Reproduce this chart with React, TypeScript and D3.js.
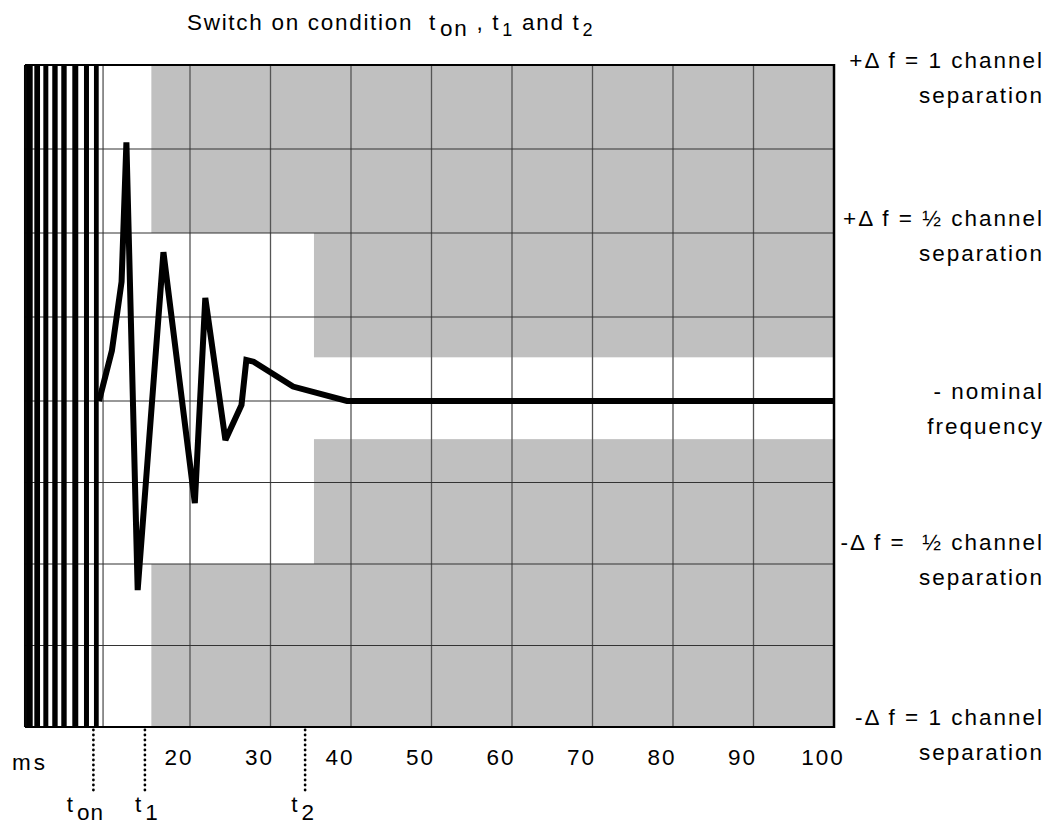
import React from "react";
import * as d3 from "d3";

// ---------- data ----------
const X_MIN = -0.5;
const X_MAX = 100;
const xTickValues = [20, 30, 40, 50, 60, 70, 80, 90, 100];
const xGridValues = [9.2, 20, 30, 40, 50, 60, 70, 80, 90];
const yGridValues = [-0.75, -0.5, -0.25, 0, 0.25, 0.5, 0.75];

// oscillation bursts before switch-on (ms start, ms end)
const stripeStarts = [-0.37, 0.66, 1.78, 2.89, 4.01, 5.38, 6.83, 8.07];
const stripeEnds = [0.46, 1.37, 2.4, 3.56, 4.68, 6.12, 7.45, 8.66];

// frequency deviation trace (ms, channel separations)
const traceTimes = [8.7, 10.3, 11.5, 12.1, 13.5, 16.7, 20.6, 21.9, 24.4, 26.4, 27.0, 27.9, 32.8, 39.5, 100];
const traceValues = [0, 0.15, 0.355, 0.77, -0.58, 0.443, -0.313, 0.307, -0.12, -0.012, 0.122, 0.117, 0.043, 0, 0];

// forbidden (grey) zones
const zoneFrom = [15.2, 15.2, 35.4, 35.4];
const zoneLow = [0.5, -1, 0.13, -0.5];
const zoneHigh = [1, -0.5, 0.5, -0.117];

// time markers
const markerNames = ["t", "t", "t"];
const markerSubs = ["on", "1", "2"];
const markerTimes = [8.0, 14.4, 34.3];

// right-hand labels
const rightLevels = [1, 0.5, 0, -0.5, -1];
const rightLine1 = ["+\u0394 f = 1 channel", "+\u0394 f = \u00bd channel", "- nominal", "-\u0394 f =  \u00bd channel", "-\u0394 f = 1 channel"];
const rightLine2 = ["separation", "separation", "frequency", "separation", "separation"];

// ---------- layout ----------
const W = 1055;
const H = 832;
const xScale = d3.scaleLinear().domain([0, X_MAX]).range([29, 834]);
const yScale = d3.scaleLinear().domain([-1, 0, 1]).range([727, 401, 65]);
const FONT = "'Liberation Sans', Arial, Helvetica, sans-serif";
const FS = 22.5;
const LS = 2;
const rightDy = [3, -7, -2, -14, -2];
const markerDx = [-8, 2, -2];

export default function App() {
  const left = xScale(X_MIN);
  const right = xScale(X_MAX);
  const top = yScale(1);
  const bottom = yScale(-1);

  const line = d3
    .line<number>()
    .x((_, i) => xScale(traceTimes[i]))
    .y((d) => yScale(d));

  return (
    <svg
      width={W}
      height={H}
      style={{ position: "absolute", left: 0, top: 0, background: "#fff" }}
      fontFamily={FONT}
    >
      {/* grey zones */}
      {zoneFrom.map((f, i) => (
        <rect
          key={"z" + i}
          x={xScale(f)}
          y={yScale(zoneHigh[i])}
          width={right - xScale(f)}
          height={yScale(zoneLow[i]) - yScale(zoneHigh[i])}
          fill="#c0c0c0"
        />
      ))}

      {/* grid */}
      {xGridValues.map((v) => (
        <line key={"gx" + v} x1={xScale(v)} x2={xScale(v)} y1={top} y2={bottom} stroke="#555" strokeWidth={1.3} />
      ))}
      {yGridValues.map((v) => (
        <line key={"gy" + v} x1={left} x2={right} y1={yScale(v)} y2={yScale(v)} stroke="#333" strokeWidth={1.2} />
      ))}

      {/* frame */}
      <line x1={left} x2={right} y1={top} y2={top} stroke="#000" strokeWidth={2} />
      <line x1={left} x2={right + 1} y1={bottom} y2={bottom} stroke="#000" strokeWidth={2} />
      <line x1={right} x2={right} y1={top - 1} y2={bottom + 1} stroke="#000" strokeWidth={2.5} />
      <line x1={left} x2={left} y1={top} y2={bottom} stroke="#000" strokeWidth={2} />

      {/* oscillation stripes */}
      {stripeStarts.map((s, i) => (
        <rect
          key={"s" + i}
          x={xScale(s)}
          y={top}
          width={xScale(stripeEnds[i]) - xScale(s)}
          height={bottom - top}
          fill="#000"
        />
      ))}

      {/* trace */}
      <path
        d={line(traceValues) || ""}
        fill="none"
        stroke="#000"
        strokeWidth={6}
        strokeLinejoin="miter"
        strokeMiterlimit={3}
      />

      {/* time markers */}
      {markerTimes.map((t, i) => (
        <g key={"m" + i}>
          <line
            x1={xScale(t)}
            x2={xScale(t)}
            y1={bottom + 3}
            y2={bottom + 66}
            stroke="#000"
            strokeWidth={2.8}
            strokeLinecap="round"
            strokeDasharray="0 5"
          />
          <text x={xScale(t) + markerDx[i]} y={812} fontSize={FS} textAnchor="middle" letterSpacing={1}>
            {markerNames[i]}
            <tspan dx={3} dy={8}>{markerSubs[i]}</tspan>
          </text>
        </g>
      ))}

      {/* x tick labels */}
      {xTickValues.map((v) => (
        <text key={"xt" + v} x={xScale(v) - 11} y={765} fontSize={FS} textAnchor="middle" letterSpacing={LS}>
          {v}
        </text>
      ))}
      <text x={12} y={770} fontSize={FS} letterSpacing={3}>
        ms
      </text>

      {/* title */}
      <text x={187} y={30} fontSize={FS} letterSpacing={1.7} style={{ whiteSpace: "pre" }}>
        {"Switch on condition  t"}
        <tspan dx={3} dy={6}>on</tspan>
        <tspan dy={-6}>{" , t"}</tspan>
        <tspan dx={2} dy={6} fontSize={18}>1</tspan>
        <tspan dy={-6}>{" and t"}</tspan>
        <tspan dx={2} dy={6} fontSize={18}>2</tspan>
      </text>

      {/* right labels */}
      {rightLevels.map((lv, i) => (
        <text
          key={"r" + i}
          x={1044}
          y={yScale(lv) + rightDy[i]}
          fontSize={FS}
          textAnchor="end"
          letterSpacing={LS}
          style={{ whiteSpace: "pre" }}
        >
          <tspan x={1044}>{rightLine1[i]}</tspan>
          <tspan x={1044} dy={35}>{rightLine2[i]}</tspan>
        </text>
      ))}
    </svg>
  );
}
